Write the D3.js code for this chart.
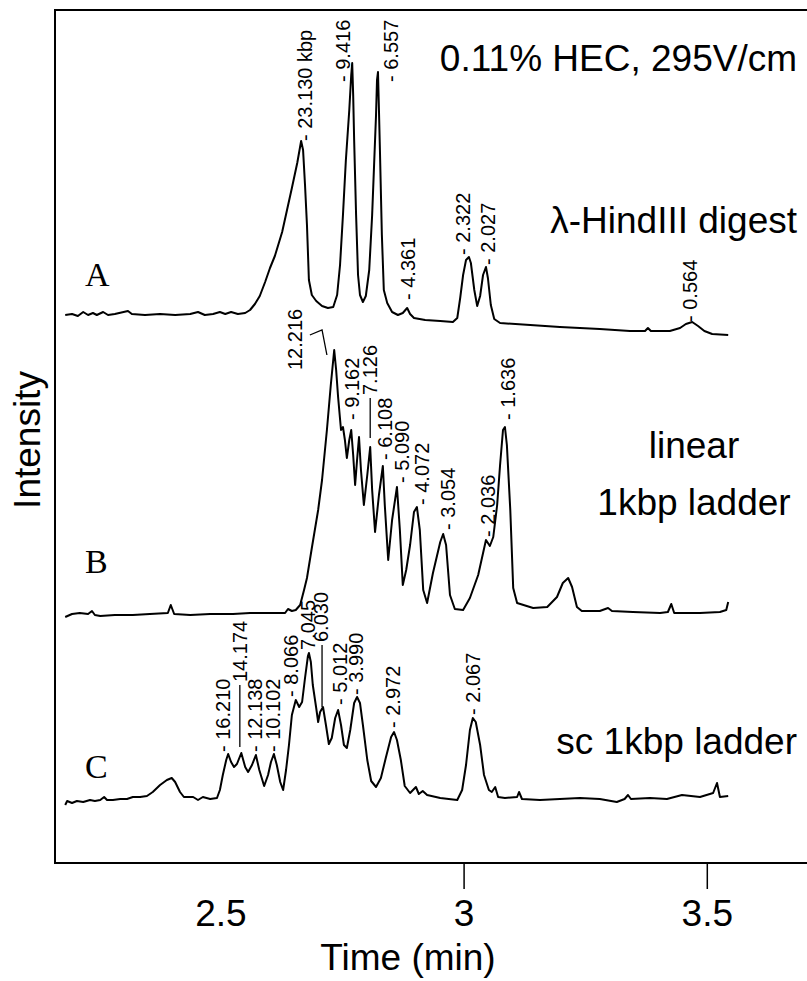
<!DOCTYPE html>
<html>
<head>
<meta charset="utf-8">
<script src="https://cdn.jsdelivr.net/npm/d3@7"></script>
<style>
  body { margin: 0; background: #fff; }
  svg { display: block; }
  text { font-family: "Liberation Sans", Arial, Helvetica, sans-serif; fill: #000; }
</style>
</head>
<body>
<div id="container"></div>
<script>
/* CONSTANTS AND GLOBALS */
const width = 807;
const height = 981;
const margin = { top: 10, right: 0, bottom: 118, left: 55 };

/* DATA */
// [time (min), signal above the trace's own baseline (a.u.)]
const traceA = [
  [2.181,-2],[2.195,-1],[2.207,-3],[2.218,1],[2.228,-2],[2.238,0],[2.246,-2],[2.259,1],[2.269,-2],
  [2.283,-1],[2.310,2],[2.318,-1],[2.345,-2],[2.376,-1],[2.407,-2],[2.438,-1],[2.454,1],[2.468,-2],
  [2.485,-1],[2.499,1],[2.510,-1],[2.522,1],[2.536,-1],[2.551,0],[2.561,3],[2.571,9],[2.581,17],
  [2.592,31],[2.602,45],[2.612,57],[2.627,81],[2.637,103],[2.647,125],[2.658,150],[2.666,172],
  [2.670,163],[2.674,128],[2.678,88],[2.682,33],[2.688,18],[2.697,12],[2.709,7],[2.721,5],[2.732,6],
  [2.740,18],[2.746,48],[2.752,98],[2.758,153],[2.765,203],[2.769,238],[2.771,250],[2.773,218],
  [2.775,173],[2.779,98],[2.783,38],[2.787,18],[2.793,11],[2.799,17],[2.806,43],[2.812,98],
  [2.816,148],[2.820,198],[2.822,233],[2.824,241],[2.826,203],[2.828,163],[2.832,78],[2.836,23],
  [2.843,10],[2.853,1],[2.865,-2],[2.875,0],[2.884,5],[2.890,-1],[2.898,-5],[2.921,-7],[2.952,-8],
  [2.978,-9],[2.987,-5],[2.993,15],[2.999,38],[3.005,53],[3.011,56],[3.015,50],[3.022,23],[3.028,7],
  [3.034,17],[3.040,38],[3.046,46],[3.050,35],[3.056,8],[3.063,-6],[3.075,-10],[3.137,-12],
  [3.198,-14],[3.280,-16],[3.342,-18],[3.373,-18],[3.379,-15],[3.385,-18],[3.424,-18],[3.445,-15],
  [3.457,-11],[3.470,-9],[3.482,-13],[3.495,-18],[3.511,-21],[3.544,-22]
];
const traceB = [
  [2.181,-4],[2.195,-1],[2.211,0],[2.228,-1],[2.236,2],[2.242,-2],[2.253,-3],[2.283,-2],[2.320,-2],
  [2.355,-1],[2.392,0],[2.398,8],[2.405,-1],[2.438,-2],[2.479,-1],[2.526,-1],[2.561,0],[2.596,0],
  [2.633,0],[2.639,4],[2.647,2],[2.655,3],[2.664,8],[2.672,23],[2.678,35],[2.688,65],[2.701,103],
  [2.709,133],[2.719,183],[2.727,228],[2.734,263],[2.738,243],[2.742,216],[2.748,183],[2.752,186],
  [2.756,173],[2.760,155],[2.765,173],[2.769,183],[2.773,158],[2.777,128],[2.781,153],[2.785,176],
  [2.789,143],[2.795,108],[2.802,138],[2.808,166],[2.812,123],[2.818,81],[2.826,118],[2.834,147],
  [2.838,108],[2.845,53],[2.853,93],[2.863,126],[2.869,83],[2.875,28],[2.882,43],[2.890,68],
  [2.898,101],[2.904,106],[2.910,83],[2.917,23],[2.925,10],[2.937,40],[2.952,71],[2.958,79],
  [2.964,68],[2.972,18],[2.982,4],[2.999,3],[3.013,15],[3.030,38],[3.046,73],[3.054,67],[3.061,76],
  [3.069,108],[3.075,148],[3.081,183],[3.085,186],[3.089,168],[3.096,103],[3.102,25],[3.110,10],
  [3.143,5],[3.172,6],[3.192,16],[3.204,30],[3.215,35],[3.223,26],[3.233,6],[3.243,2],[3.280,2],
  [3.297,5],[3.305,2],[3.348,1],[3.404,0],[3.420,1],[3.427,9],[3.433,0],[3.486,0],[3.527,1],
  [3.540,3],[3.544,11]
];
const traceC = [
  [2.181,-2],[2.185,2],[2.195,0],[2.205,2],[2.218,1],[2.232,3],[2.242,2],[2.253,3],[2.261,6],
  [2.267,3],[2.279,3],[2.294,4],[2.308,4],[2.320,6],[2.335,6],[2.349,7],[2.361,11],[2.376,18],
  [2.390,23],[2.400,25],[2.407,21],[2.417,11],[2.425,6],[2.444,6],[2.454,3],[2.464,6],[2.479,4],
  [2.493,5],[2.499,13],[2.505,28],[2.512,43],[2.516,49],[2.522,41],[2.528,36],[2.534,39],[2.543,50],
  [2.551,36],[2.557,31],[2.565,38],[2.573,48],[2.580,33],[2.590,17],[2.598,28],[2.604,41],[2.610,49],
  [2.616,38],[2.623,21],[2.629,13],[2.635,33],[2.641,58],[2.647,88],[2.655,103],[2.662,96],
  [2.668,101],[2.674,125],[2.680,147],[2.682,150],[2.686,141],[2.690,118],[2.697,95],[2.701,81],
  [2.705,91],[2.711,96],[2.717,78],[2.723,59],[2.729,65],[2.736,85],[2.742,93],[2.748,78],[2.754,58],
  [2.760,55],[2.767,73],[2.775,100],[2.781,106],[2.787,100],[2.793,78],[2.802,43],[2.810,22],
  [2.820,16],[2.830,25],[2.840,45],[2.851,66],[2.857,71],[2.863,63],[2.871,43],[2.879,17],[2.890,10],
  [2.896,13],[2.902,16],[2.908,9],[2.916,12],[2.925,8],[2.952,5],[2.987,3],[2.997,13],[3.005,38],
  [3.013,73],[3.019,85],[3.025,81],[3.034,58],[3.042,28],[3.052,13],[3.058,11],[3.065,16],[3.071,6],
  [3.085,5],[3.110,6],[3.114,11],[3.120,4],[3.157,3],[3.198,4],[3.239,5],[3.280,4],[3.315,1],
  [3.331,4],[3.338,8],[3.344,4],[3.383,5],[3.418,4],[3.449,8],[3.486,6],[3.513,10],[3.521,20],
  [3.527,6],[3.544,7]
];

const traceNames = ["A", "B", "C"];
const traceOffsets = [550, 250, 60]; // a.u., stacking of the three runs

// fragment sizes: [text, time, signal] where the label starts
const labelsA = [
  ["- 23.130 kbp", 2.688, 172], ["- 9.416", 2.766, 231], ["- 6.557", 2.865, 231],
  ["- 4.361", 2.900, 13], ["- 2.322", 3.013, 58], ["- 2.027", 3.065, 48], ["- 0.564", 3.480, -9]
];
const labelsB = [
  ["12.216", 2.668, 243], ["- 9.162", 2.785, 193], ["7.126", 2.822, 218], ["- 6.108", 2.853, 153],
  ["- 5.090", 2.888, 130], ["- 4.072", 2.929, 108], ["- 3.054", 2.982, 83], ["- 2.036", 3.065, 76],
  ["- 1.636", 3.106, 193]
];
const labelsC = [
  ["- 16.210", 2.520, 51], ["14.174", 2.555, 121], ["- 12.138", 2.586, 51], ["- 10.102", 2.623, 51],
  ["- 8.066", 2.660, 106], ["7.045", 2.695, 153], ["6.030", 2.721, 161], ["- 5.012", 2.760, 98],
  ["- 3.990", 2.793, 108], ["- 2.972", 2.869, 75], ["- 2.067", 3.034, 88]
];
// leader lines from labels to crowded peaks
const leadersB = [
  [[2.684, 278], [2.709, 283], [2.719, 258]],
  [[2.808, 215], [2.808, 175]]
];
const leadersC = [
  [[2.540, 118], [2.540, 56]],
  [[2.709, 158], [2.709, 96]]
];

const xTicks = [2.5, 3, 3.5];
const xTickLines = [3, 3.5];

/* SCALES */
const xScale = d3.scaleLinear()
  .domain([2.16, 3.706])
  .range([margin.left, width - margin.right]);

const yScale = d3.scaleLinear()
  .domain([0, 853])
  .range([height - margin.bottom, margin.top]);

/* SVG */
const svg = d3.select("#container")
  .append("svg")
  .attr("width", width)
  .attr("height", height);

// frame (right side runs off the page)
svg.append("path")
  .attr("d", `M${width + 5},${margin.top}H${margin.left}V${height - margin.bottom}H${width + 5}`)
  .attr("fill", "none")
  .attr("stroke", "#000")
  .attr("stroke-width", 2);

/* X AXIS */
const xAxis = svg.append("g")
  .attr("transform", `translate(0,${height - margin.bottom})`)
  .call(d3.axisBottom(xScale)
    .tickValues(xTicks)
    .tickSize(26)
    .tickPadding(11)
    .tickFormat(d => String(d)));

xAxis.select(".domain").remove();
xAxis.selectAll(".tick line")
  .filter(d => !xTickLines.includes(d))
  .remove();
xAxis.selectAll(".tick line").attr("stroke", "#000").attr("stroke-width", 1.5);
xAxis.selectAll(".tick text")
  .style("font-size", "37px")
  .style("font-family", "'Liberation Sans', Arial, sans-serif");

svg.append("text")
  .attr("x", 408)
  .attr("y", 970)
  .attr("text-anchor", "middle")
  .style("font-size", "37px")
  .text("Time (min)");

svg.append("text")
  .attr("transform", "translate(40,440) rotate(-90)")
  .attr("text-anchor", "middle")
  .style("font-size", "37px")
  .text("Intensity");

/* TRACES */
const line = d3.line()
  .x(d => xScale(d[0]))
  .y(d => yScale(d[1]));

const traces = [traceA, traceB, traceC];
const labelSets = [labelsA, labelsB, labelsC];
const leaderSets = [[], leadersB, leadersC];

traces.forEach((trace, i) => {
  const off = traceOffsets[i];

  svg.append("path")
    .datum(trace.map(d => [d[0], d[1] + off]))
    .attr("fill", "none")
    .attr("stroke", "#000")
    .attr("stroke-width", 2)
    .attr("stroke-linejoin", "round")
    .attr("d", line);

  svg.selectAll(`.frag-${traceNames[i]}`)
    .data(labelSets[i])
    .enter()
    .append("text")
    .attr("class", `frag-${traceNames[i]}`)
    .attr("transform", d => `translate(${xScale(d[1])},${yScale(d[2] + off)}) rotate(-90)`)
    .style("font-size", "20px")
    .text(d => d[0]);

  leaderSets[i].forEach(pts => {
    svg.append("path")
      .datum(pts.map(d => [d[0], d[1] + off]))
      .attr("fill", "none")
      .attr("stroke", "#000")
      .attr("stroke-width", 1.3)
      .attr("d", line);
  });
});

/* TRACE LETTERS AND CAPTIONS */
svg.selectAll(".trace-letter")
  .data(traceNames)
  .enter()
  .append("text")
  .attr("class", "trace-letter")
  .attr("x", 85)
  .attr("y", (d, i) => [286, 573, 778][i])
  .style("font-family", "'Liberation Serif', 'Times New Roman', serif")
  .style("font-size", "34px")
  .text(d => d);

const captions = [
  ["0.11% HEC, 295V/cm", 797, 71, "end"],
  ["\u03bb-HindIII digest", 797, 233, "end"],
  ["linear", 694, 458, "middle"],
  ["1kbp ladder", 694, 515, "middle"],
  ["sc 1kbp ladder", 797, 754, "end"]
];

svg.selectAll(".caption")
  .data(captions)
  .enter()
  .append("text")
  .attr("class", "caption")
  .attr("x", d => d[1])
  .attr("y", d => d[2])
  .attr("text-anchor", d => d[3])
  .style("font-size", "37px")
  .text(d => d[0]);
</script>
</body>
</html>
